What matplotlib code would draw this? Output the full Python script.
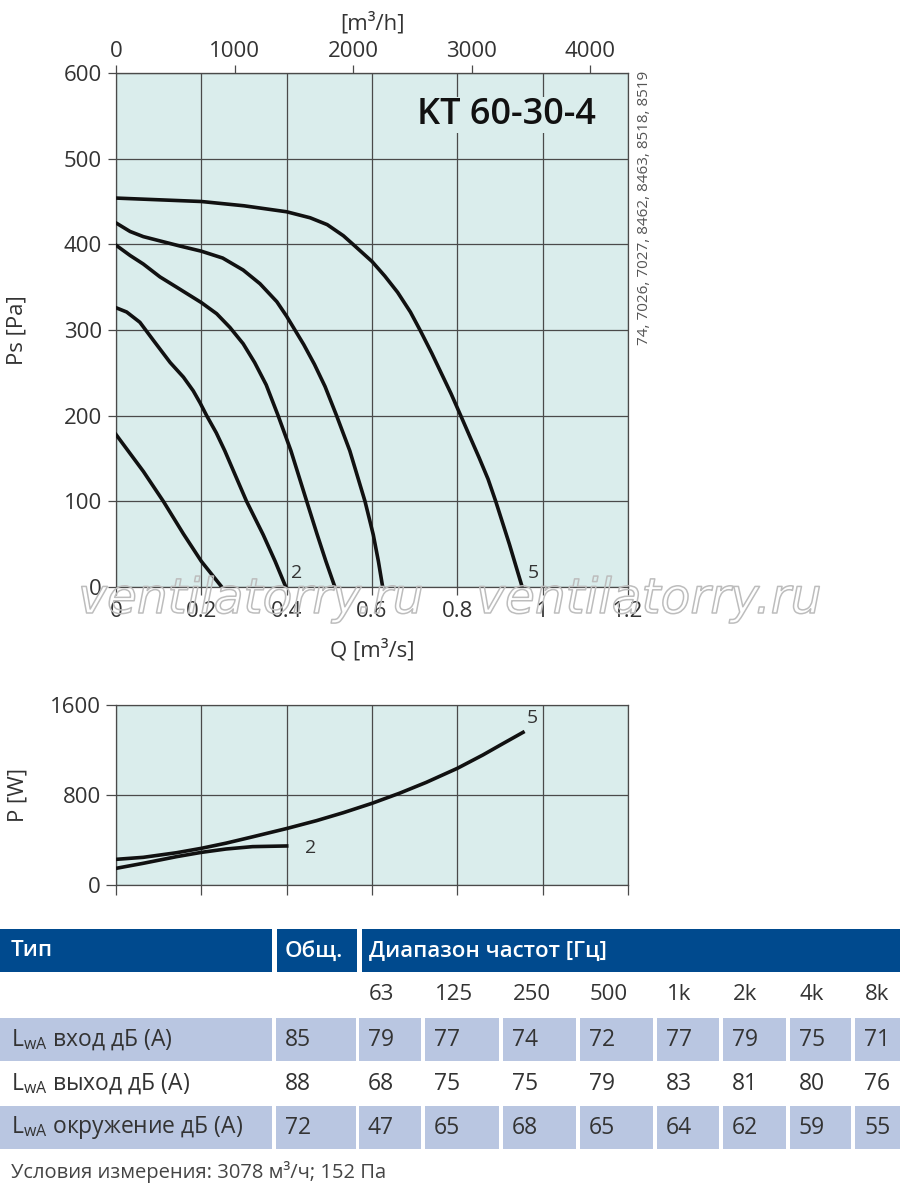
import numpy as np
import matplotlib
matplotlib.use("Agg")
import matplotlib.pyplot as plt
from matplotlib.patches import Rectangle
import matplotlib.patheffects as pe

plt.rcParams['font.family'] = ['Open Sans', 'DejaVu Sans']
plt.rcParams['mathtext.fontset'] = 'custom'
plt.rcParams['mathtext.rm'] = 'Open Sans'

# Pressure curves: Q [m3/s] vs Ps [Pa]
q_c1 = [0, 0.064, 0.111, 0.158, 0.2, 0.248]
ps_c1 = [178, 135, 100, 62, 30, 0]

q_c2 = [0, 0.025, 0.056, 0.0875, 0.127, 0.158, 0.181, 0.197, 0.2125, 0.235, 0.255,
        0.28, 0.306, 0.345, 0.373, 0.398]
ps_c2 = [326, 321, 309, 288, 262, 245, 229, 215, 200, 180, 159, 130, 100, 61, 30, 0]

q_c3 = [0, 0.033, 0.064, 0.103, 0.142, 0.2, 0.236, 0.267, 0.298, 0.325, 0.352, 0.38,
        0.41, 0.447, 0.471, 0.492, 0.513]
ps_c3 = [399, 387, 377, 362, 350, 332, 319, 303, 284, 262, 236, 200, 159, 100, 62, 30, 0]

q_c4 = [0, 0.033, 0.064, 0.103, 0.15, 0.2, 0.25, 0.298, 0.3375, 0.377, 0.4, 0.44, 0.465,
        0.49, 0.517, 0.548, 0.5836, 0.603, 0.615, 0.625]
ps_c4 = [425, 415, 409, 404, 398, 392, 384, 370, 354, 333, 316, 283, 260, 234, 200, 159,
         100, 61, 30, 0]

q_c5 = [0, 0.1, 0.2, 0.3, 0.4, 0.455, 0.495, 0.533, 0.56, 0.6, 0.63, 0.66, 0.69,
        0.7125, 0.74, 0.762, 0.785, 0.808, 0.829, 0.851, 0.872, 0.89, 0.906, 0.922, 0.937, 0.952]
ps_c5 = [454, 452, 450, 445, 438, 431, 423, 410, 398, 380, 363, 344, 321, 300, 273,
         250, 226, 200, 176, 151, 126, 100, 75, 50, 25, 0]

# Power curves: Q [m3/s] vs P [W]
q_p2 = [0, 0.064, 0.142, 0.2, 0.258, 0.32, 0.4]
p_p2 = [148, 193, 252, 290, 320, 341, 347]
q_p5 = [0, 0.064, 0.142, 0.2, 0.258, 0.32, 0.4, 0.47, 0.533, 0.6, 0.664, 0.727, 0.8,
        0.86, 0.906, 0.954]
p_p5 = [228, 246, 287, 326, 372, 428, 502, 572, 643, 726, 815, 912, 1037, 1156, 1255, 1357]

q_ticks = [0, 0.2, 0.4, 0.6, 0.8, 1.0, 1.2]
q_tick_labels = ['0', '0.2', '0.4', '0.6', '0.8', '1', '1.2']
m3h_ticks = [0, 1000, 2000, 3000, 4000]
ps_ticks = [0, 100, 200, 300, 400, 500, 600]
p_ticks = [0, 800, 1600]

# Sound table
freq_labels = ['63', '125', '250', '500', '1k', '2k', '4k', '8k']
row_names = ['L$_{\\mathregular{wA}}$ вход дБ (А)',
             'L$_{\\mathregular{wA}}$ выход дБ (А)',
             'L$_{\\mathregular{wA}}$ окружение дБ (А)']
total_db = [85, 88, 72]
inlet_db = [79, 77, 74, 72, 77, 79, 75, 71]
outlet_db = [68, 75, 75, 79, 83, 81, 80, 76]
surround_db = [47, 65, 68, 65, 64, 62, 59, 55]

BG = '#daedec'
GRID = '#4a4a4a'
TXT = '#333333'
W, H = 900, 1198

fig = plt.figure(figsize=(9, 11.98), dpi=100)

# ---------- pressure chart ----------
ax = fig.add_axes([116 / W, 1 - 587 / H, 512 / W, 514 / H])
ax.set_facecolor(BG)
for q, ps in [(q_c1, ps_c1), (q_c2, ps_c2), (q_c3, ps_c3), (q_c4, ps_c4), (q_c5, ps_c5)]:
    ax.plot(q, ps, color='#111111', lw=2.6, solid_joinstyle='round', zorder=3)
ax.set_xlim(0, 1.2)
ax.set_ylim(0, 600)
ax.set_xticks(q_ticks)
ax.set_xticklabels(q_tick_labels)
ax.set_yticks(ps_ticks)
ax.grid(True, color=GRID, lw=0.9)
ax.set_axisbelow(True)
for s in ax.spines.values():
    s.set_color(GRID)
    s.set_linewidth(0.9)
ax.tick_params(direction='out', length=6, width=0.9, color=GRID,
               labelsize=16, labelcolor=TXT, pad=4)
ax.set_xlabel('Q [m³/s]', fontsize=16, color=TXT, labelpad=12)
ax.set_ylabel('Ps [Pa]', fontsize=16, color=TXT, labelpad=26)
ax.text(0.41, 10, '2', fontsize=14, color=TXT)
ax.text(0.965, 10, '5', fontsize=14, color=TXT)
ax.text(0.705, 551, 'KT 60-30-4', fontsize=26, fontweight='semibold',
        color='#111111', va='center', ha='left', zorder=5,
        bbox=dict(facecolor=BG, edgecolor='none', pad=0))

sec = ax.secondary_xaxis('top', functions=(lambda q: q * 3600, lambda v: v / 3600))
sec.set_xticks(m3h_ticks)
sec.tick_params(direction='out', length=6, width=0.9, color=GRID,
                labelsize=16, labelcolor=TXT, pad=2)
sec.spines['top'].set_color(GRID)
sec.set_xlabel('[m³/h]', fontsize=16, color=TXT, labelpad=8)

fig.text(645 / W, 1 - 208 / H, '74, 7026, 7027, 8462, 8463, 8518, 8519',
         rotation=90, fontsize=11, color='#555555', ha='center', va='center')

# ---------- power chart ----------
ax2 = fig.add_axes([116 / W, 1 - 885 / H, 512 / W, 180 / H])
ax2.set_facecolor(BG)
ax2.plot(q_p5, p_p5, color='#111111', lw=2.6, solid_joinstyle='round', zorder=3)
ax2.plot(q_p2, p_p2, color='#111111', lw=2.6, solid_joinstyle='round', zorder=3)
ax2.set_xlim(0, 1.2)
ax2.set_ylim(0, 1600)
ax2.set_xticks(q_ticks)
ax2.set_xticklabels([])
ax2.set_yticks(p_ticks)
ax2.grid(True, color=GRID, lw=0.9)
ax2.set_axisbelow(True)
for s in ax2.spines.values():
    s.set_color(GRID)
    s.set_linewidth(0.9)
ax2.tick_params(direction='out', length=7, width=0.9, color=GRID,
                labelsize=16, labelcolor=TXT, pad=4)
ax2.set_ylabel('P [W]', fontsize=16, color=TXT, labelpad=15)
ax2.text(0.443, 326, '2', fontsize=14, color=TXT, va='center')
ax2.text(0.963, 1481, '5', fontsize=14, color=TXT, va='center')

# ---------- watermark ----------
for xc in [251, 649]:
    fig.text(xc / W, 1 - 613 / H, 'ventilatorry.ru', fontsize=35, style='italic',
             family='DejaVu Sans', color='none', ha='center', va='baseline', zorder=10,
             path_effects=[pe.Stroke(linewidth=1.1, foreground='#bdbdbd')])

# ---------- sound table ----------
tb = fig.add_axes([0, 0, 1, 1], zorder=-1)
tb.set_xlim(0, W)
tb.set_ylim(H, 0)
tb.axis('off')

HEAD = '#004a8e'
LIGHT = '#b9c6e1'
freq_cells = [(359, 421), (425, 499), (503, 576), (580, 653),
              (657, 719), (723, 786), (790, 851), (855, 900)]
name_cell = (0, 272)
total_cell = (276, 356)


def cell(x0, x1, y0, y1, color):
    tb.add_patch(Rectangle((x0, y0), x1 - x0, y1 - y0, facecolor=color, edgecolor='none'))


# header
cell(0, 272, 929, 972, HEAD)
cell(277, 357, 929, 972, HEAD)
cell(362, 900, 929, 972, HEAD)
for x, t in [(11, 'Тип'), (285, 'Общ.'), (369, 'Диапазон частот [Гц]')]:
    tb.text(x, 951, t, color='white', fontsize=16, fontweight='semibold', va='center')

for (x0, x1), f in zip(freq_cells, freq_labels):
    tb.text(x0 + 10, 995, f, color=TXT, fontsize=16, va='center')

rows = [inlet_db, outlet_db, surround_db]
row_y = [(1018, 1061), (1062, 1105), (1106, 1149)]
for i, (name, tot, vals, (y0, y1)) in enumerate(zip(row_names, total_db, rows, row_y)):
    yc = (y0 + y1) / 2
    if i != 1:
        cell(*name_cell, y0, y1, LIGHT)
        cell(*total_cell, y0, y1, LIGHT)
        for x0, x1 in freq_cells:
            cell(x0, x1, y0, y1, LIGHT)
    tb.text(11, yc, name, color=TXT, fontsize=16.5, va='center')
    tb.text(total_cell[0] + 9, yc, str(tot), color=TXT, fontsize=16.5, va='center')
    for (x0, x1), v in zip(freq_cells, vals):
        tb.text(x0 + 9, yc, str(v), color=TXT, fontsize=16.5, va='center')

tb.text(11, 1172, 'Условия измерения: 3078 м³/ч; 152 Па', color='#444444',
        fontsize=14.5, va='center')

fig.savefig('out.png', dpi=100, facecolor='white')
